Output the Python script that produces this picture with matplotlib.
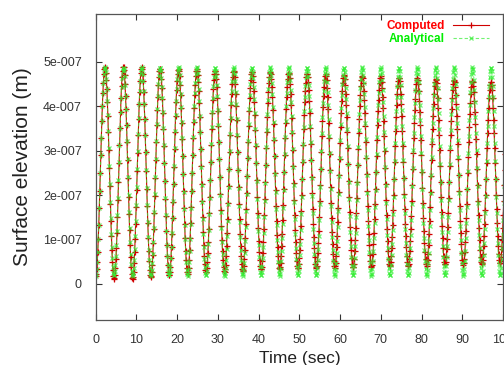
import numpy as np
import matplotlib.pyplot as plt

plt.rcParams['font.family'] = ['Liberation Sans', 'DejaVu Sans']

period = 4.513
sample_step = 0.124

# position along one cycle (trough -> crest -> trough), 32 samples per cycle
cycle_shape = [0.000, 0.010, 0.038, 0.085, 0.146, 0.222, 0.309, 0.402,
               0.500, 0.598, 0.691, 0.778, 0.854, 0.915, 0.962, 0.990,
               1.000, 0.990, 0.962, 0.915, 0.854, 0.778, 0.691, 0.598,
               0.500, 0.402, 0.309, 0.222, 0.146, 0.085, 0.038, 0.010]

# crest and trough of every cycle, in units of 1e-7 m
computed_crest = [4.88, 4.90, 4.88, 4.86, 4.84, 4.83, 4.81, 4.80, 4.78, 4.77, 4.76, 4.74,
                  4.72, 4.70, 4.69, 4.67, 4.65, 4.63, 4.61, 4.59, 4.57, 4.55, 4.54]
computed_trough = [0.18, 0.10, 0.10, 0.15, 0.18, 0.22, 0.25, 0.27, 0.29, 0.31, 0.33, 0.34,
                   0.35, 0.36, 0.37, 0.38, 0.39, 0.40, 0.41, 0.42, 0.43, 0.44, 0.45, 0.46]
analytical_crest = [4.88] * 23
analytical_trough = [0.18] * 24

x_ticks = [0, 10, 20, 30, 40, 50, 60, 70, 80, 90, 100]
y_ticks = [0, 1e-7, 2e-7, 3e-7, 4e-7, 5e-7]
y_tick_labels = ['0', '1e-007', '2e-007', '3e-007', '4e-007', '5e-007']


def build(crest, trough):
    n = len(cycle_shape)
    shape_x = np.arange(n + 1) / n
    shape_y = np.array(cycle_shape + [cycle_shape[0]])
    t = np.arange(0, len(crest) * period, sample_step)
    phase = t / period
    k = np.floor(phase).astype(int)
    frac = phase - k
    s = np.interp(frac, shape_x, shape_y)
    crest = np.array(crest)
    trough = np.array(trough)
    lo = np.where(frac < 0.5, trough[k], trough[k + 1])
    y = (lo + (crest[k] - lo) * s) * 1e-7
    return t, y


t_c, y_c = build(computed_crest, computed_trough)
t_a, y_a = build(analytical_crest, analytical_trough)

fig = plt.figure(figsize=(5.04, 3.65), dpi=100)
ax = fig.add_axes([0.190, 0.1233, 0.808, 0.8384])

ax.plot(t_c, y_c, color='#d00000', lw=0.8, marker='+', ms=5, mew=0.9,
        label='Computed')
ax.plot(t_a, y_a, color='#33ee33', lw=0.8, ls=(0, (3, 2)), marker='x', ms=3.5, mew=0.9,
        label='Analytical', alpha=0.7)

ax.set_xlim(0, 100)
ax.set_ylim(-0.81e-7, 6.07e-7)
ax.set_xticks(x_ticks)
ax.set_xticklabels([str(v) for v in x_ticks])
ax.set_yticks(y_ticks)
ax.set_yticklabels(y_tick_labels)

ax.tick_params(direction='in', length=4, width=0.8, top=True, right=True,
               labelsize=9, colors='#333333', pad=10)
for s in ax.spines.values():
    s.set_color('#555555')
    s.set_linewidth(0.9)

ax.set_xlabel('Time (sec)', fontsize=12.5, color='#222222', labelpad=4)
ax.set_ylabel('Surface elevation (m)', fontsize=15, color='#222222', labelpad=8)

leg = ax.legend(loc='upper right', bbox_to_anchor=(0.965, 0.98), markerfirst=False,
                frameon=False, prop={'weight': 'bold', 'size': 8.5},
                handlelength=3.0, handletextpad=0.75, labelspacing=0.1,
                borderpad=0, borderaxespad=0)
for txt, c in zip(leg.get_texts(), ['#ff0000', '#00ee00']):
    txt.set_color(c)

fig.savefig('out.png', dpi=100)
